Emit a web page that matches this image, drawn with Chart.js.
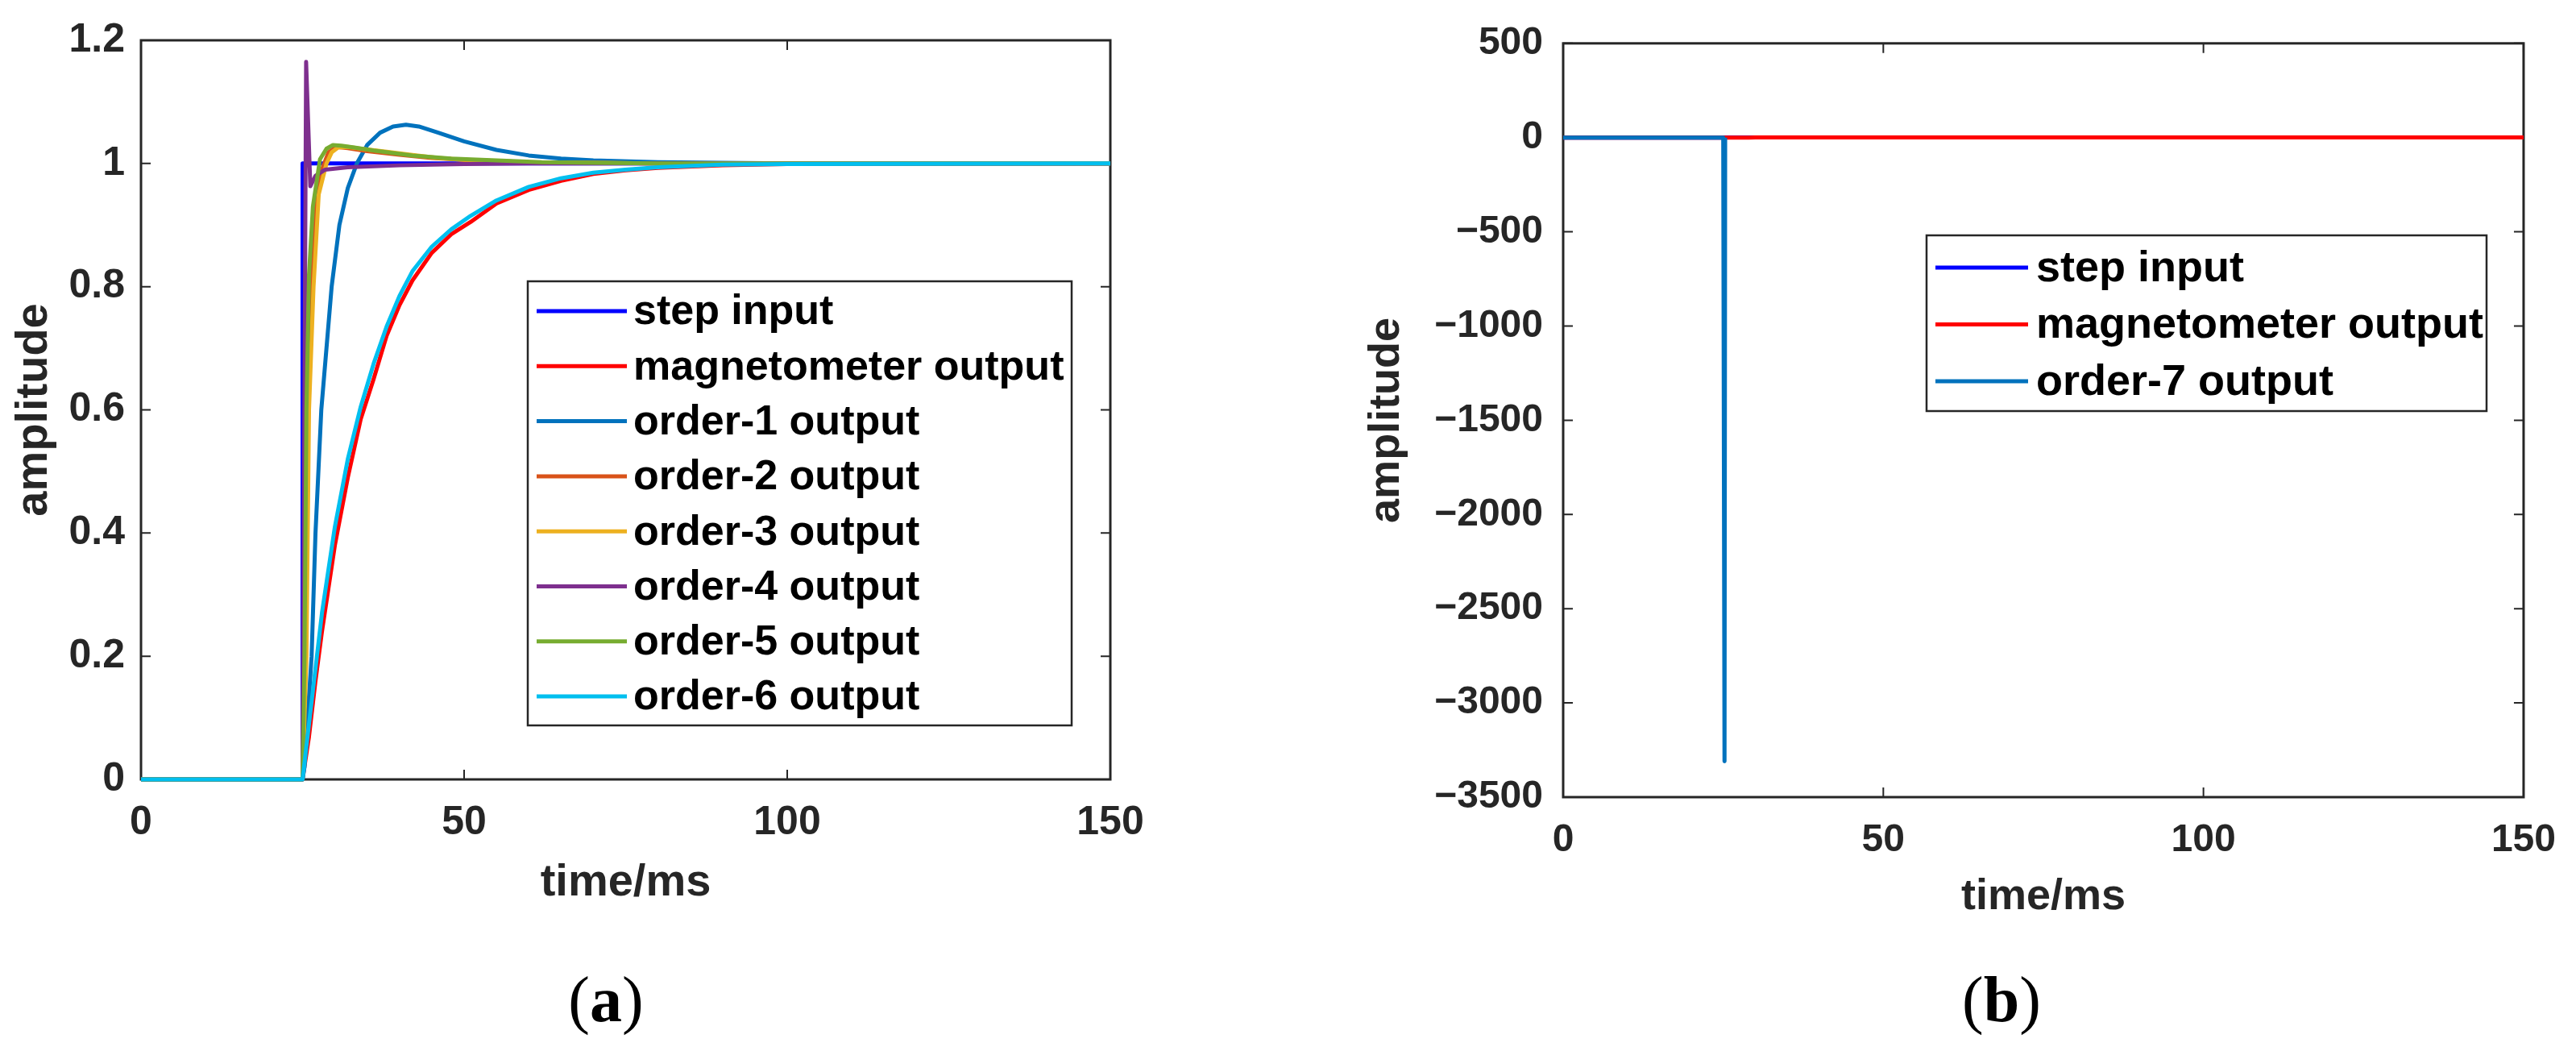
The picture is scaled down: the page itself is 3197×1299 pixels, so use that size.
<!DOCTYPE html>
<html>
<head>
<meta charset="utf-8">
<script src="https://cdn.jsdelivr.net/npm/chart.js@4.4.1/dist/chart.umd.min.js"></script>
<style>
  html, body { margin: 0; padding: 0; background: #fff; }
  body { width: 3197px; height: 1299px; position: relative; overflow: hidden; }
  #chartA { position: absolute; left: 0; top: 0; }
  #chartB { position: absolute; left: 1650px; top: 0; }
  .cap {
    position: absolute; top: 1200px; width: 240px; text-align: center;
    font-family: "Liberation Serif", "Times New Roman", serif;
    font-size: 80px; line-height: 80px; color: #000;
  }
</style>
</head>
<body>
<canvas id="chartA" width="1480" height="1160"></canvas>
<canvas id="chartB" width="1547" height="1180"></canvas>
<div class="cap" style="left:632px">(<b>a</b>)</div>
<div class="cap" style="left:2364px">(<b>b</b>)</div>
<script>
// tick labels
const xTicks = [0, 50, 100, 150];
const yTicksA = [0, 0.2, 0.4, 0.6, 0.8, 1, 1.2];
const yTicksB = [-3500, -3000, -2500, -2000, -1500, -1000, -500, 0, 500];

// step input (same in both panels)
const stepT = [0, 25, 25, 150];
const stepV = [0, 0, 1, 1];

// magnetometer output (same in both panels)
const magT = [0, 25, 26, 27, 28, 29, 30, 32, 34, 36, 38, 40, 42, 45, 48, 51, 55, 60, 65, 70, 75, 80, 90, 100, 150];
const magV = [0, 0, 0.07, 0.16, 0.24, 0.31, 0.38, 0.49, 0.585, 0.65, 0.72, 0.77, 0.81, 0.855, 0.885, 0.905, 0.935, 0.957, 0.972, 0.983, 0.989, 0.993, 0.997, 0.999, 1];

// panel (a) compensator outputs
const o1T = [0, 25, 25.3, 26.4, 27, 27.9, 29.5, 30.7, 32, 33.4, 35, 37, 39, 41, 43, 46, 50, 55, 60, 65, 70, 80, 90, 100, 150];
const o1V = [0, 0, 0.02, 0.2, 0.4, 0.6, 0.8, 0.9, 0.96, 1.0, 1.03, 1.05, 1.06, 1.063, 1.06, 1.05, 1.036, 1.022, 1.013, 1.008, 1.005, 1.002, 1.001, 1.0, 1];

const o2T = [0, 25, 25.4, 25.8, 26.3, 27, 28, 29, 30.2, 32, 35, 40, 45, 50, 55, 60, 70, 80, 150];
const o2V = [0, 0, 0.2, 0.55, 0.78, 0.92, 0.99, 1.018, 1.027, 1.025, 1.02, 1.014, 1.009, 1.006, 1.004, 1.002, 1.001, 1.0, 1];

const o3T = [0, 25, 25.6, 26, 26.7, 27.5, 28.7, 29.5, 30.5, 32, 34, 38, 42, 46, 50, 55, 60, 70, 80, 150];
const o3V = [0, 0, 0.2, 0.6, 0.8, 0.95, 1.0, 1.018, 1.026, 1.027, 1.024, 1.019, 1.014, 1.009, 1.006, 1.004, 1.002, 1.001, 1.0, 1];

const o4T = [0, 25, 25.55, 26.2, 27, 28.5, 32, 40, 50, 60, 150];
const o4V = [0, 0, 1.165, 0.963, 0.98, 0.99, 0.994, 0.997, 0.999, 1.0, 1];

const o5T = [0, 25, 25.3, 25.6, 26, 26.6, 27.7, 28.7, 29.7, 31, 33, 36, 42, 48, 55, 62, 70, 80, 150];
const o5V = [0, 0, 0.2, 0.6, 0.82, 0.93, 1.007, 1.024, 1.03, 1.029, 1.026, 1.021, 1.013, 1.008, 1.005, 1.002, 1.001, 1.0, 1];

const o6T = [0, 25, 26, 27, 28, 29, 30, 32, 34, 36, 38, 40, 42, 45, 48, 51, 55, 60, 65, 70, 75, 80, 90, 100, 150];
const o6V = [0, 0, 0.09, 0.18, 0.27, 0.34, 0.41, 0.52, 0.605, 0.675, 0.735, 0.785, 0.825, 0.865, 0.893, 0.915, 0.94, 0.962, 0.976, 0.985, 0.99, 0.994, 0.998, 0.999, 1];

// panel (b) order-7 output
const o7T = [0, 25, 25.2, 25.3];
const o7V = [0, 0, -3310, 0];

const namesA = ["step input", "magnetometer output", "order-1 output", "order-2 output",
  "order-3 output", "order-4 output", "order-5 output", "order-6 output"];
const namesB = ["step input", "magnetometer output", "order-7 output"];

const colorsA = ["#0000FF", "#FF0000", "#0072BD", "#D95319", "#EDB120", "#7E2F8E", "#77AC30", "#00BFEF"];
const colorsB = ["#0000FF", "#FF0000", "#0072BD"];

const pts = (ts, vs) => ts.map((t, i) => ({ x: t, y: vs[i] }));

const seriesA = [
  pts(stepT, stepV), pts(magT, magV), pts(o1T, o1V), pts(o2T, o2V),
  pts(o3T, o3V), pts(o4T, o4V), pts(o5T, o5V), pts(o6T, o6V)
];
const seriesB = [pts(stepT, stepV), pts(magT, magV), pts(o7T, o7V)];

// MATLAB-like box with inward ticks, plus a boxed legend inside the axes
const matlabAxes = {
  id: "matlabAxes",
  beforeDatasetsDraw(chart) {
    const { ctx, chartArea: a, scales } = chart;
    ctx.save();
    ctx.strokeStyle = "#262626";
    ctx.lineWidth = 2;
    ctx.beginPath();
    scales.x.ticks.forEach(t => {
      const px = scales.x.getPixelForValue(t.value);
      ctx.moveTo(px, a.bottom); ctx.lineTo(px, a.bottom - 12);
      ctx.moveTo(px, a.top); ctx.lineTo(px, a.top + 12);
    });
    scales.y.ticks.forEach(t => {
      const py = scales.y.getPixelForValue(t.value);
      ctx.moveTo(a.left, py); ctx.lineTo(a.left + 12, py);
      ctx.moveTo(a.right, py); ctx.lineTo(a.right - 12, py);
    });
    ctx.stroke();
    ctx.lineWidth = 3;
    ctx.strokeRect(a.left, a.top, a.width, a.height);
    ctx.restore();
  },
  afterDatasetsDraw(chart, args, o) {
    const ctx = chart.ctx;
    ctx.save();
    ctx.fillStyle = "#fff";
    ctx.fillRect(o.left, o.top, o.width, o.height);
    ctx.strokeStyle = "#262626";
    ctx.lineWidth = 2.5;
    ctx.strokeRect(o.left, o.top, o.width, o.height);
    ctx.font = "bold " + o.fontSize + "px 'Liberation Sans', Arial, sans-serif";
    ctx.textBaseline = "middle";
    ctx.textAlign = "left";
    chart.data.datasets.forEach((ds, i) => {
      const y = o.firstRow + i * o.rowGap;
      ctx.strokeStyle = ds.borderColor;
      ctx.lineWidth = 5;
      ctx.beginPath();
      ctx.moveTo(o.lineX0, y);
      ctx.lineTo(o.lineX1, y);
      ctx.stroke();
      ctx.fillStyle = "#000";
      ctx.fillText(ds.label, o.textX, y + 2);
    });
    ctx.restore();
  }
};

function makeDatasets(names, colors, series) {
  return names.map((name, i) => ({
    label: name,
    data: series[i],
    borderColor: colors[i],
    backgroundColor: colors[i],
    borderWidth: 5,
    pointRadius: 0,
    tension: 0,
    fill: false,
    clip: false,
    borderJoinStyle: "round",
    order: names.length - i
  }));
}

function makeChart(id, names, colors, series, cfg) {
  const ctx = document.getElementById(id).getContext("2d");
  return new Chart(ctx, {
    type: "line",
    data: { datasets: makeDatasets(names, colors, series) },
    options: {
      responsive: false,
      animation: false,
      devicePixelRatio: 1,
      layout: { padding: cfg.padding },
      plugins: {
        legend: { display: false },
        tooltip: { enabled: false },
        matlabAxes: cfg.legend
      },
      scales: {
        x: {
          type: "linear",
          min: 0,
          max: 150,
          afterBuildTicks: s => { s.ticks = xTicks.map(v => ({ value: v })); },
          afterFit: s => { s.height = cfg.xHeight; },
          grid: { display: false, drawTicks: false },
          border: { display: false },
          ticks: {
            color: "#262626",
            padding: cfg.xTickPad,
            maxRotation: 0,
            font: { family: "'Liberation Sans', Arial, sans-serif", size: cfg.tickSize, weight: "bold" }
          },
          title: {
            display: true,
            text: "time/ms",
            color: "#262626",
            padding: { top: 0, bottom: cfg.xTitlePad },
            font: { family: "'Liberation Sans', Arial, sans-serif", size: cfg.titleSize, weight: "bold" }
          }
        },
        y: {
          type: "linear",
          min: cfg.yTicks[0],
          max: cfg.yTicks[cfg.yTicks.length - 1],
          afterBuildTicks: s => { s.ticks = cfg.yTicks.map(v => ({ value: v })); },
          afterFit: s => { s.width = cfg.yWidth; },
          grid: { display: false, drawTicks: false },
          border: { display: false },
          ticks: {
            color: "#262626",
            padding: cfg.yTickPad,
            callback: v => (v < 0 ? "\u2212" + Math.abs(v) : String(v)),
            font: { family: "'Liberation Sans', Arial, sans-serif", size: cfg.tickSize, weight: "bold" }
          },
          title: {
            display: true,
            text: "amplitude",
            color: "#262626",
            padding: { top: cfg.yTitlePad, bottom: 0 },
            font: { family: "'Liberation Sans', Arial, sans-serif", size: cfg.titleSize, weight: "bold" }
          }
        }
      }
    },
    plugins: [matlabAxes]
  });
}

document.addEventListener("DOMContentLoaded", () => {
  makeChart("chartA", namesA, colorsA, seriesA, {
    padding: { left: 0, top: 49, right: 102, bottom: 0 },
    xHeight: 193,
    yWidth: 175,
    yTicks: yTicksA,
    tickSize: 50,
    titleSize: 56,
    xTickPad: 24,
    yTickPad: 20,
    xTitlePad: 31,
    yTitlePad: 9,
    legend: {
      left: 655, top: 349, width: 675, height: 551,
      firstRow: 386, rowGap: 68.3,
      lineX0: 666, lineX1: 778, textX: 786, fontSize: 52
    }
  });

  makeChart("chartB", namesB, colorsB, seriesB, {
    padding: { left: 0, top: 33, right: 62, bottom: 0 },
    xHeight: 191,
    yWidth: 290,
    yTicks: yTicksB,
    tickSize: 48,
    titleSize: 54,
    xTickPad: 25,
    yTickPad: 25,
    xTitlePad: 34,
    yTitlePad: 39,
    legend: {
      left: 741, top: 292, width: 695, height: 218,
      firstRow: 332, rowGap: 70.5,
      lineX0: 752, lineX1: 867, textX: 877, fontSize: 54
    }
  });
});
</script>
</body>
</html>
